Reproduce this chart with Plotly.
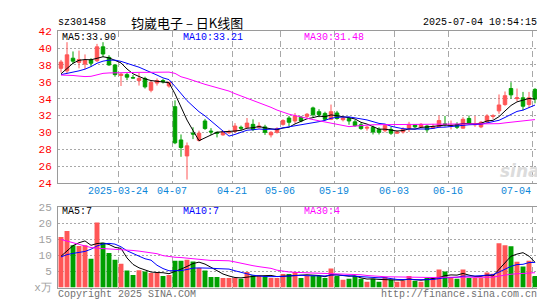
import numpy as np
import pandas as pd
import plotly.graph_objects as go

# ---------------- data ----------------
dates = [
    "2025-03-10", "2025-03-11", "2025-03-12", "2025-03-13", "2025-03-14",
    "2025-03-17", "2025-03-18", "2025-03-19", "2025-03-20", "2025-03-21",
    "2025-03-24", "2025-03-25", "2025-03-26", "2025-03-27", "2025-03-28",
    "2025-03-31", "2025-04-01", "2025-04-02", "2025-04-03", "2025-04-07",
    "2025-04-08", "2025-04-09", "2025-04-10", "2025-04-11", "2025-04-14",
    "2025-04-15", "2025-04-16", "2025-04-17", "2025-04-18", "2025-04-21",
    "2025-04-22", "2025-04-23", "2025-04-24", "2025-04-25", "2025-04-28",
    "2025-04-29", "2025-04-30", "2025-05-06", "2025-05-07", "2025-05-08",
    "2025-05-09", "2025-05-12", "2025-05-13", "2025-05-14", "2025-05-15",
    "2025-05-16", "2025-05-19", "2025-05-20", "2025-05-21", "2025-05-22",
    "2025-05-23", "2025-05-26", "2025-05-27", "2025-05-28", "2025-05-29",
    "2025-05-30", "2025-06-03", "2025-06-04", "2025-06-05", "2025-06-06",
    "2025-06-09", "2025-06-10", "2025-06-11", "2025-06-12", "2025-06-13",
    "2025-06-16", "2025-06-17", "2025-06-18", "2025-06-19", "2025-06-20",
    "2025-06-23", "2025-06-24", "2025-06-25", "2025-06-26", "2025-06-27",
    "2025-06-30", "2025-07-01", "2025-07-02", "2025-07-03", "2025-07-04",
]

opens = [
    37.6, 37.3, 38.8, 38.3, 38.1, 38.6, 38.5, 40.15, 38.9, 38.0,
    36.75, 36.85, 36.5, 36.15, 36.4, 35.0, 35.85, 36.15, 35.5, 33.05,
    29.1, 27.2, 29.9, 29.05, 31.35, 30.15, 30.0, 29.7, 29.95, 30.1,
    30.6, 30.6, 30.95, 30.6, 30.65, 29.7, 30.0, 30.95, 31.7, 31.35,
    31.8, 31.9, 32.9, 32.45, 32.25, 31.55, 32.3, 31.5, 31.65, 31.25,
    30.9, 30.5, 30.6, 30.35, 30.2, 30.35, 29.9, 30.05, 30.5, 30.9,
    30.65, 30.75, 30.5, 30.65, 31.0, 30.75, 30.95, 30.5, 31.65, 30.9,
    30.65, 31.25, 31.9, 32.55, 33.3, 35.2, 34.0, 34.1, 33.3, 35.1,
]
highs = [
    38.6, 40.7, 39.6, 39.7, 39.25, 38.8, 40.5, 40.7, 39.15, 38.05,
    37.05, 37.05, 36.8, 37.05, 36.6, 36.0, 36.4, 36.35, 36.0, 33.8,
    29.75, 28.8, 30.6, 30.2, 31.6, 30.5, 30.1, 30.2, 30.3, 31.1,
    30.8, 31.7, 31.55, 31.2, 30.9, 30.15, 30.6, 31.55, 31.95, 32.3,
    31.95, 32.3, 33.05, 32.75, 32.45, 33.3, 32.55, 31.9, 31.8, 31.5,
    31.15, 30.75, 30.8, 30.6, 30.95, 30.65, 30.2, 30.6, 31.25, 30.95,
    31.1, 30.9, 31.0, 32.0, 31.95, 31.4, 31.2, 31.8, 32.0, 31.95,
    31.35, 32.15, 32.15, 34.5, 34.85, 35.95, 35.2, 34.8, 34.8, 35.25,
]
lows = [
    37.1, 37.0, 38.1, 37.6, 37.5, 37.8, 38.35, 38.95, 37.9, 36.6,
    35.5, 36.2, 36.4, 35.55, 35.2, 34.75, 35.55, 35.8, 35.3, 28.6,
    27.1, 24.4, 29.2, 28.9, 30.3, 29.7, 29.4, 29.6, 29.8, 29.95,
    30.2, 30.5, 30.15, 30.45, 29.7, 29.4, 29.85, 30.8, 30.75, 31.05,
    31.2, 31.7, 31.8, 31.8, 31.4, 31.45, 31.5, 31.3, 30.9, 30.65,
    30.3, 30.2, 29.75, 29.75, 30.0, 29.7, 29.85, 29.85, 30.05, 30.5,
    30.55, 30.0, 30.4, 30.6, 30.7, 30.35, 30.4, 30.45, 30.95, 30.65,
    30.5, 31.1, 31.6, 32.2, 33.15, 34.0, 33.7, 32.6, 32.9, 33.45,
]
closes = [
    38.35, 39.2, 38.45, 38.65, 38.55, 38.2, 40.15, 39.3, 38.0, 36.85,
    36.9, 36.55, 36.45, 36.4, 35.4, 35.95, 36.15, 36.0, 35.95, 28.76,
    28.2, 28.4, 29.8, 29.9, 30.45, 30.05, 29.9, 30.05, 30.05, 30.75,
    30.5, 31.1, 30.35, 30.75, 30.0, 30.0, 30.45, 31.4, 31.2, 31.95,
    31.35, 32.15, 32.1, 32.1, 31.55, 32.45, 31.65, 31.7, 31.35, 30.8,
    30.45, 30.6, 30.05, 30.0, 30.8, 29.9, 30.05, 30.35, 30.95, 30.65,
    30.95, 30.3, 30.7, 31.4, 30.95, 30.8, 30.6, 31.55, 31.1, 30.95,
    31.2, 31.95, 31.95, 33.25, 34.35, 34.45, 34.1, 33.1, 34.1, 33.95,
]
volumes = [
    15.7, 17.5, 13.1, 12.9, 13.1, 8.9, 20.2, 13.9, 10.7, 8.6,
    7.4, 5.3, 3.9, 5.4, 5.0, 4.5, 4.5, 3.6, 3.9, 8.3,
    8.3, 8.6, 8.1, 6.1, 5.3, 3.3, 3.3, 3.0, 3.0, 3.0,
    2.7, 4.8, 3.8, 3.8, 3.4, 3.0, 3.0, 4.2, 4.2, 4.8,
    3.0, 3.6, 3.6, 3.6, 3.0, 5.9, 3.6, 2.4, 2.7, 3.6,
    2.7, 1.8, 2.7, 1.8, 3.3, 2.4, 1.8, 2.1, 3.6, 2.1,
    1.8, 3.0, 3.0, 5.6, 5.0, 3.0, 2.7, 5.6, 3.0, 3.0,
    3.0, 4.7, 4.3, 13.7, 13.1, 12.8, 8.0, 6.5, 8.3, 3.6,
]

# moving-average values at the start of the window (read from the chart,
# since the earlier trading days are not shown)
ma5_head = [36.95, 37.6, 38.2, 38.55]
ma10_head = [36.85, 36.98, 37.13, 37.3, 37.5, 37.8, 38.2, 38.45, 38.57]
ma30_head = [36.8, 36.8, 36.75, 36.68, 36.62, 36.65, 36.85, 37.0, 37.05, 37.08,
             37.1, 37.12, 37.12, 37.12, 37.12, 37.13, 37.15, 37.15, 37.15, 37.0,
             36.6, 36.4, 36.15, 35.9, 35.7, 35.5, 35.3, 35.1, 34.9]
vma5_head = [9.7, 11.4, 13.0, 13.9]
vma10_head = [9.5, 10.2, 10.6, 10.9, 11.2, 11.9, 12.9, 13.5, 13.7]
vma30_head = [14.9, 14.4, 14.0, 13.4, 12.8, 12.4, 12.2, 12.1, 12.1, 12.0,
              11.9, 11.8, 11.5, 11.3, 11.1, 10.9, 10.5, 9.9, 9.6, 9.4,
              9.3, 9.1, 8.9, 8.6, 8.5, 8.4, 8.4, 8.4, 8.3]

tick_dates = ["2025-03-24", "2025-04-07", "2025-04-21", "2025-05-06",
              "2025-05-19", "2025-06-03", "2025-06-16", "2025-07-04"]
tick_labels = ["2025-03-24", "04-07", "04-21", "05-06",
               "05-19", "06-03", "06-16", "07-04"]
price_ticks = [24, 26, 28, 30, 32, 34, 36, 38, 40, 42]
vol_ticks = [0, 5, 10, 15, 20, 25]
vol_tick_text = ["x万", "5", "10", "15", "20", "25"]

price_ma_labels = ["MA5:33.90", "MA10:33.21", "MA30:31.48"]
vol_ma_labels = ["MA5:7", "MA10:7", "MA30:4"]
symbol = "sz301458"
title = "钧崴电子 – 日K线图"
timestamp = "2025-07-04 10:54:15"
copyright_text = "Copyright 2025 SINA.COM"
url_text = "http://finance.sina.com.cn"

# ---------------- styling ----------------
W, H = 545, 300
RED = "#ff5656"
GREEN = "#00a000"
MONO = "Liberation Mono"
CJK = "Noto Sans CJK SC"
GRID = "#a8a8a8"
BORDER = "#9a9a9a"
MA_COLORS = ["#000000", "#0000ff", "#ff00ff"]


def ma(values, w, head):
    m = pd.Series(values).rolling(w).mean().to_numpy()
    m[:len(head)] = head
    return m


n = len(dates)
x = np.arange(n)
price_mas = [ma(closes, 5, ma5_head), ma(closes, 10, ma10_head), ma(closes, 30, ma30_head)]
vol_mas = [ma(volumes, 5, vma5_head), ma(volumes, 10, vma10_head), ma(volumes, 30, vma30_head)]
bar_colors = [RED if c >= o else GREEN for o, c in zip(opens, closes)]

tick_idx = np.array([dates.index(d) for d in tick_dates])
grid_pos = tick_idx - 0.5
label_pos = np.minimum(grid_pos, n - 4.2)

fig = go.Figure()

fig.add_trace(go.Candlestick(
    x=x, open=opens, high=highs, low=lows, close=closes,
    increasing=dict(line=dict(color=RED, width=1), fillcolor=RED),
    decreasing=dict(line=dict(color=GREEN, width=1), fillcolor=GREEN),
    whiskerwidth=0, xaxis="x", yaxis="y", hoverinfo="skip", showlegend=False,
))
for m, col in zip(price_mas, MA_COLORS):
    fig.add_trace(go.Scatter(x=x, y=m, mode="lines", line=dict(color=col, width=1),
                             xaxis="x", yaxis="y", hoverinfo="skip", showlegend=False))

fig.add_trace(go.Bar(x=x, y=volumes, marker=dict(color=bar_colors, line=dict(width=0)),
                     width=0.82, xaxis="x2", yaxis="y2", hoverinfo="skip", showlegend=False))
for m, col in zip(vol_mas, MA_COLORS):
    fig.add_trace(go.Scatter(x=x, y=m, mode="lines", line=dict(color=col, width=1),
                             xaxis="x2", yaxis="y2", hoverinfo="skip", showlegend=False))

xdom = [50 / W, 530 / W]
xcommon = dict(
    domain=xdom, range=[-0.5, n - 0.5], tickmode="array", tickvals=list(grid_pos),
    showticklabels=False, ticks="", showgrid=True, gridcolor=GRID, gridwidth=1,
    griddash="6px,4px", showline=True, mirror=True, linecolor=BORDER, linewidth=1,
    zeroline=False, fixedrange=True,
)
fig.update_layout(
    width=W, height=H,
    margin=dict(l=0, r=0, t=0, b=0),
    paper_bgcolor="white", plot_bgcolor="white",
    showlegend=False, hovermode=False,
    boxgap=0.17, bargap=0.17,
    xaxis=dict(**xcommon, anchor="y", rangeslider=dict(visible=False)),
    xaxis2=dict(**xcommon, anchor="y2"),
    yaxis=dict(
        domain=[1 - 177 / H, 1 - 19 / H], range=[24, 42], tickmode="array",
        tickvals=price_ticks, ticks="", ticklabelstandoff=3,
        tickfont=dict(family=MONO, size=11, color="#ff0000"),
        showgrid=True, gridcolor=GRID, griddash="2px,2px", gridwidth=1,
        showline=True, mirror=True, linecolor=BORDER, linewidth=1,
        zeroline=False, anchor="x", fixedrange=True,
    ),
    yaxis2=dict(
        domain=[1 - 286 / H, 1 - 202 / H], range=[0, 25], tickmode="array",
        tickvals=vol_ticks, ticktext=vol_tick_text, ticks="", ticklabelstandoff=3,
        tickfont=dict(family=MONO, size=11, color="#a0a0a0"),
        showgrid=True, gridcolor=GRID, griddash="2px,2px", gridwidth=1,
        showline=True, mirror=True, linecolor=BORDER, linewidth=1,
        zeroline=False, anchor="x2", fixedrange=True,
    ),
)

ann = []
# date labels under the price panel
for pos, lab in zip(label_pos, tick_labels):
    ann.append(dict(x=pos, xref="x", y=1 - 186 / H, yref="paper", text=lab,
                    showarrow=False, xanchor="center", yanchor="middle",
                    font=dict(family=MONO, size=10, color="#0a86d8")))


def txt(xp, yp, text, color, size=10, family=MONO, anchor="left"):
    ann.append(dict(x=xp / W, xref="paper", y=1 - yp / H, yref="paper", text=text,
                    showarrow=False, xanchor=anchor, yanchor="middle",
                    font=dict(family=family, size=size, color=color)))


txt(48, 10, symbol, "#000000")
txt(179, 10, title, "#000000", size=13, family=CJK, anchor="center")
txt(531, 10, timestamp, "#000000", anchor="right")
for xp, lab, col in zip([52, 173, 294], price_ma_labels, MA_COLORS):
    txt(xp, 25, lab, col)
for xp, lab, col in zip([52, 173, 294], vol_ma_labels, MA_COLORS):
    txt(xp, 207, lab, col)
txt(48, 293, copyright_text, "#707070")
txt(531, 293, url_text, "#707070", anchor="right")
# watermark
ann.append(dict(x=512 / W, xref="paper", y=1 - 165 / H, yref="paper", text="<b><i>sina</i></b>",
                showarrow=False, xanchor="center", yanchor="middle",
                font=dict(family="DejaVu Sans", size=17, color="#dcdcdc")))
fig.update_layout(annotations=ann)

fig.write_html("out.html", config={"displayModeBar": False, "staticPlot": True})
